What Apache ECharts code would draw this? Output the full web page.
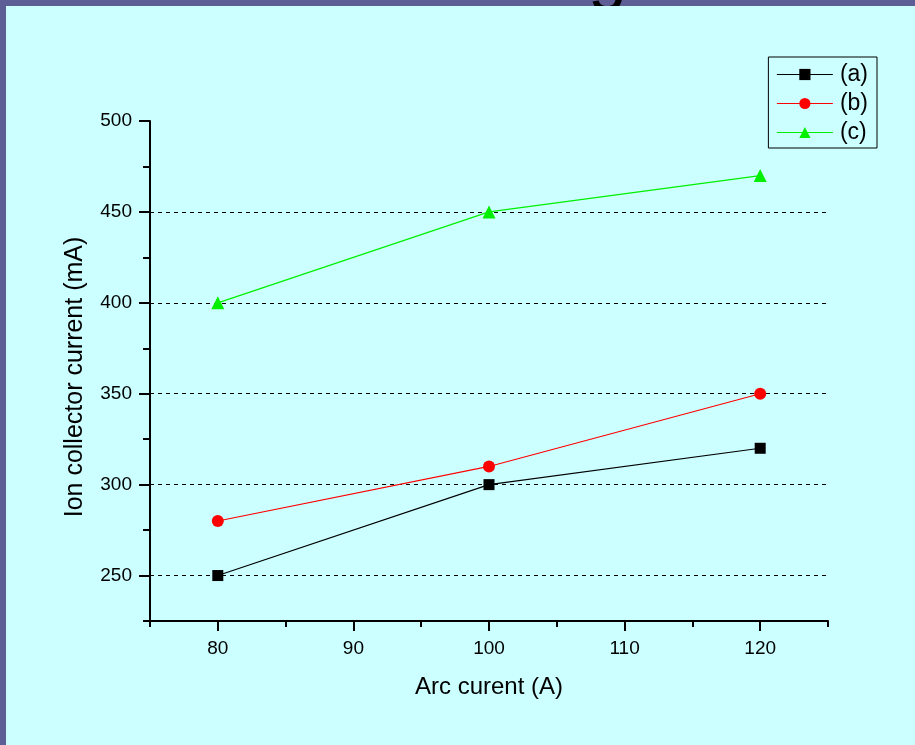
<!DOCTYPE html>
<html>
<head>
<meta charset="utf-8">
<script src="https://cdn.jsdelivr.net/npm/echarts@6/dist/echarts.min.js"></script>
<style>
html,body{margin:0;padding:0;background:#5e5e96;}
#c{width:915px;height:745px;}
</style>
</head>
<body>
<div id="c"></div>
<script>
var xValues = [80, 100, 120];
var seriesA = [250, 300, 320];
var seriesB = [280, 310, 350];
var seriesC = [400, 450, 470];
var seriesNames = ['(a)', '(b)', '(c)'];
var yMajorTicks = [250, 300, 350, 400, 450, 500];
var yMinorTicks = [225, 275, 325, 375, 425, 475];
var yGridLines = [250, 300, 350, 400, 450];
var xMajorTicks = [80, 90, 100, 110, 120];
var xMinorTicks = [75, 85, 95, 105, 115, 125];

function pairs(xs, ys){ return xs.map(function(x,i){ return [x, ys[i]]; }); }

var FONT = 'Liberation Sans, Arial, sans-serif';
var chart = echarts.init(document.getElementById('c'));
var axisLineStyle = {color:'#000', width:2};

chart.setOption({
  backgroundColor: '#5e5e96',
  animation: false,
  textStyle: {fontFamily: FONT},
  graphic: [
    {type:'text', left: 588, top: -58, z: -20, style:{text:'g', fontSize: 70, fontFamily: FONT, fill:'#000'}},
    {type:'rect', shape:{x:6, y:6, width:915, height:745}, style:{fill:'#ccffff'}, z: -10}
  ],
  grid: {left:150, right:87, top:121, bottom:124, containLabel:false},
  legend: {
    right: 38, top: 57, orient:'vertical',
    backgroundColor:'#ccffff', borderColor:'#000', borderWidth:1,
    padding:[6,9,4,8], itemGap: 6, itemWidth: 56, itemHeight: 14,
    lineStyle:{width:1},
    textStyle:{fontSize:23, color:'#000', fontFamily:FONT, padding:[0,0,0,2]},
    data: seriesNames
  },
  xAxis: [
    {type:'value', min:75, max:125, position:'bottom',
     name:'Arc curent (A)', nameLocation:'middle', nameGap:54,
     nameTextStyle:{fontSize:24, color:'#000', fontFamily:FONT},
     axisLine:{show:true, onZero:false, lineStyle:axisLineStyle},
     axisTick:{show:true, customValues:xMajorTicks, length:10, lineStyle:axisLineStyle},
     axisLabel:{show:true, customValues:xMajorTicks, fontSize:19, color:'#000', margin:18, fontFamily:FONT},
     splitLine:{show:false}},
    {type:'value', min:75, max:125, position:'bottom',
     axisLine:{show:false, onZero:false},
     axisTick:{show:true, customValues:xMinorTicks, length:6, lineStyle:axisLineStyle},
     axisLabel:{show:false},
     splitLine:{show:false}}
  ],
  yAxis: [
    {type:'value', min:225, max:500, position:'left',
     name:'Ion collector current (mA)', nameLocation:'middle', nameGap:62,
     nameTextStyle:{fontSize:25, color:'#000', fontFamily:FONT, padding:[0,12,0,0]},
     axisLine:{show:true, onZero:false, lineStyle:axisLineStyle},
     axisTick:{show:true, customValues:yMajorTicks, length:11, lineStyle:axisLineStyle},
     axisLabel:{show:true, customValues:yMajorTicks, fontSize:19, color:'#000', margin:18, fontFamily:FONT},
     splitLine:{show:false}},
    {type:'value', min:225, max:500, position:'left',
     axisLine:{show:false, onZero:false},
     axisTick:{show:true, customValues:yMinorTicks, length:7, lineStyle:axisLineStyle},
     axisLabel:{show:false},
     splitLine:{show:false}}
  ],
  series: [
    {name:seriesNames[0], type:'line', data:pairs(xValues, seriesA), symbol:'rect', symbolSize:11,
     lineStyle:{color:'#000', width:1.2}, itemStyle:{color:'#000'}, z:5,
     markLine:{silent:true, symbol:'none', label:{show:false},
       lineStyle:{color:'#000', type:[4,4], width:1},
       data: yGridLines.map(function(v){ return {yAxis:v}; })}},
    {name:seriesNames[1], type:'line', data:pairs(xValues, seriesB), symbol:'circle', symbolSize:12,
     lineStyle:{color:'#ff0000', width:1.2}, itemStyle:{color:'#ff0000'}, z:6},
    {name:seriesNames[2], type:'line', data:pairs(xValues, seriesC), symbol:'triangle', symbolSize:13,
     lineStyle:{color:'#00f000', width:1.2}, itemStyle:{color:'#00f000'}, z:7}
  ]
});
</script>
</body>
</html>
